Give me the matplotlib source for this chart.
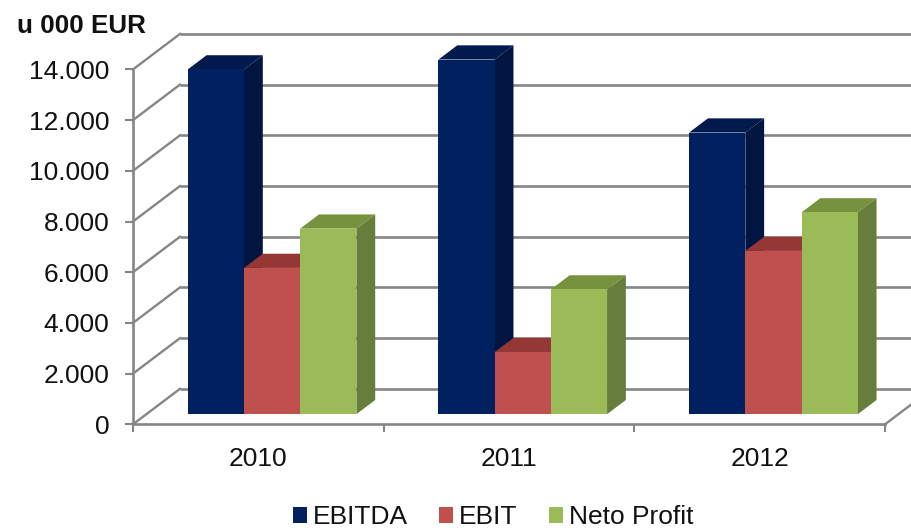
import matplotlib
matplotlib.use("Agg")
import matplotlib.pyplot as plt
from matplotlib.patches import Polygon, Patch

plt.rcParams['font.family'] = ['Liberation Sans', 'DejaVu Sans']

categories = ['2010', '2011', '2012']
ebitda = [13600, 13990, 11110]
ebit = [5770, 2450, 6440]
neto = [7320, 4920, 7960]
series_names = ['EBITDA', 'EBIT', 'Neto Profit']
yticks = [0, 2000, 4000, 6000, 8000, 10000, 12000, 14000]
ytick_labels = ['0', '2.000', '4.000', '6.000', '8.000', '10.000', '12.000', '14.000']
unit_label = 'u 000 EUR'

W, H = 912, 528
L, R, B, T = 133, 885, 424.3, 69.4
fig = plt.figure(figsize=(W / 100, H / 100), dpi=100)
ax = fig.add_axes([L / W, 1 - B / H, (R - L) / W, (B - T) / H])
ax.set_xlim(0, 3)
ax.set_ylim(0, 14000)

GRID = '#868686'
DX = 47 / ((R - L) / 3)      # full depth, category units
DY = 35.5 / ((B - T) / 14000)  # full depth, value units

# walls / gridlines
for v in yticks:
    ax.plot([DX, 3 + DX], [v + DY, v + DY], color=GRID, lw=1.9, zorder=1,
            clip_on=False, solid_capstyle='butt')
    ax.plot([0, DX], [v, v + DY], color=GRID, lw=1.7, zorder=1, clip_on=False)
ax.plot([3, 3 + DX], [0, DY], color=GRID, lw=1.7, zorder=1, clip_on=False)

colors = ['#002060', '#C0504D', '#9BBB59']
sides = ['#001540', '#803533', '#677D3B']
tops = ['#001A4D', '#953735', '#76923C']

bar_w = 56.2 / ((R - L) / 3)
start = 40.7 / ((R - L) / 3)
f_dx, f_dy = 0.30 * DX, 0.285 * DY   # front face offset into the depth
b_dx, b_dy = 0.40 * DX, 0.40 * DY   # bar depth

z = 5
for i in range(len(categories)):
    for j, vals in enumerate([ebitda, ebit, neto]):
        v = vals[i]
        x0 = i + start + j * bar_w + f_dx
        x1 = x0 + bar_w
        y0 = f_dy
        y1 = v + f_dy
        ax.add_patch(Polygon([(x1, y0), (x1 + b_dx, y0 + b_dy), (x1 + b_dx, y1 + b_dy), (x1, y1)],
                             closed=True, fc=sides[j], ec='none', zorder=z, clip_on=False))
        ax.add_patch(Polygon([(x0, y1), (x0 + b_dx, y1 + b_dy), (x1 + b_dx, y1 + b_dy), (x1, y1)],
                             closed=True, fc=tops[j], ec='none', zorder=z, clip_on=False))
        ax.bar(x0, v, width=bar_w, bottom=y0, align='edge', color=colors[j],
               zorder=z + 1, clip_on=False, lw=0)
        z += 2

for s in ['top', 'right']:
    ax.spines[s].set_visible(False)
for s in ['left', 'bottom']:
    ax.spines[s].set_color(GRID)
    ax.spines[s].set_linewidth(1.9)
    ax.spines[s].set_zorder(2)

ax.set_yticks(yticks)
ax.set_yticklabels(ytick_labels, fontsize=19, color='#111111')
ax.set_xticks([0, 1, 2, 3])
ax.set_xticklabels([])
ax.set_xticks([0.5, 1.5, 2.5], minor=True)
ax.set_xticklabels(categories, minor=True, fontsize=19, color='#111111')
ax.tick_params(axis='x', which='major', length=6, width=1.5, color=GRID)
ax.tick_params(axis='x', which='minor', length=0, pad=16.5)
ax.tick_params(axis='y', length=6, width=1.5, color=GRID, pad=11)

fig.text(17 / W, 1 - 26 / H, unit_label, fontsize=18.7, fontweight='bold', color='#111111',
         ha='left', va='center')

handles = [Patch(fc=c, ec='none') for c in colors]
fig.legend(handles, series_names, ncol=3, loc='center', bbox_to_anchor=(0.5406, 1 - 517.5 / H),
           frameon=False, fontsize=19, handlelength=0.53, handleheight=0.53,
           handletextpad=0.23, columnspacing=1.18, borderpad=0, labelcolor='#111111')

fig.savefig('out.png', dpi=100)
